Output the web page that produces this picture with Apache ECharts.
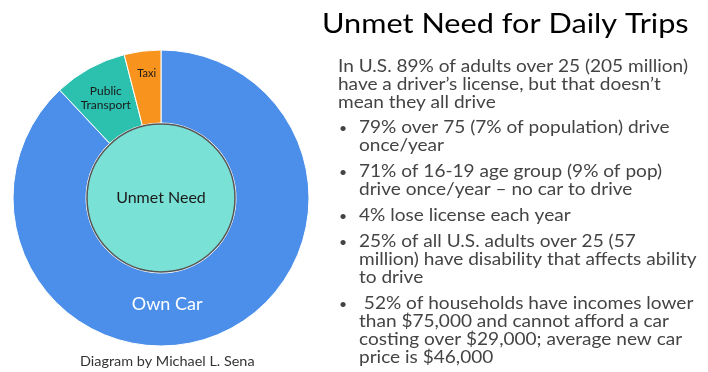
<!DOCTYPE html>
<html><head><meta charset="utf-8">
<script src="https://cdn.jsdelivr.net/npm/echarts@6/dist/echarts.min.js"></script>
<style>html,body{margin:0;padding:0;background:#fff}#c{width:708px;height:372px}</style>
</head><body><div id="c"></div>
<script>
const categories = ['Own Car', 'Public Transport', 'Taxi'];
const shares = [88, 8, 4];
const centerCategory = 'Unmet Need';
const centerValue = [1];
const titleText = 'Unmet Need for Daily Trips';
const introLines = ['In U.S. 89% of adults over 25 (205 million)', 'have a driver\u2019s license, but that doesn\u2019t', 'mean they all drive'];
const bullets = [
  ['79% over 75 (7% of population) drive', 'once/year'],
  ['71% of 16-19 age group (9% of pop)', 'drive once/year \u2013 no car to drive'],
  ['4% lose license each year'],
  ['25% of all U.S. adults over 25 (57', 'million) have disability that affects ability', 'to drive'],
  [' 52% of households have incomes lower', 'than $75,000 and cannot afford a car', 'costing over $29,000; average new car', 'price is $46,000']
];
const caption = 'Diagram by Michael L. Sena';

const FONT = 'Lato';
const colors = ['#4B8FEA', '#2CC0AF', '#F8931D'];
const chart = echarts.init(document.getElementById('c'));

function txt(t, x, y, size, fill, sx) {
  return {type:'text', x:x, y:y, scaleX:sx, scaleY:1,
    style:{text:t, font:size+'px '+FONT, fill:fill, verticalAlign:'middle', align:'left'}};
}
const graphics = [];
graphics.push(txt(titleText, 322, 25, 26, '#000', 1.18));
let y = 67;
const LH = 18;
const SX = 1.12;
introLines.forEach(t => { graphics.push(txt(t, 338, y, 17, '#444', SX)); y += LH; });
y += 7;
bullets.forEach(b => {
  graphics.push(txt('\u2022', 339, y, 14, '#444', 1));
  b.forEach(t => { graphics.push(txt(t, 359, y, 17, '#444', SX)); y += LH; });
  y += 8;
});
graphics.push(txt(caption, 80, 362, 13, '#333', 1.11));

const labelCfg = [
  {color:'#fff', fontSize:18, padding:[0,72,0,0]},
  {color:'#1a1a1a', fontSize:12, lineHeight:14},
  {color:'#1a1a1a', fontSize:11, lineHeight:11}
];
const labelText = ['Own Car', 'Public\nTransport', 'Taxi\n\n'];

chart.setOption({
  animation:false,
  graphic:graphics,
  series:[
    {type:'pie', center:[161,198], radius:[75,148], startAngle:90, clockwise:true,
     avoidLabelOverlap:false,
     itemStyle:{borderColor:'#fff', borderWidth:1},
     labelLine:{show:false},
     data:categories.map((c,i)=>({name:c, value:shares[i], itemStyle:{color:colors[i]},
       label:Object.assign({show:true, position:'inside', fontFamily:FONT, formatter:labelText[i], align:i===1?'left':'center'}, labelCfg[i])}))
    },
    {type:'pie', center:[161,198], radius:[0,74],
     itemStyle:{color:'#79E1D6', borderColor:'#555', borderWidth:1.5},
     label:{show:true, position:'center', fontFamily:FONT, fontSize:16, color:'#1a1a1a'},
     labelLine:{show:false},
     data:[{name:centerCategory, value:centerValue[0]}]
    }
  ]
});
</script></body></html>
